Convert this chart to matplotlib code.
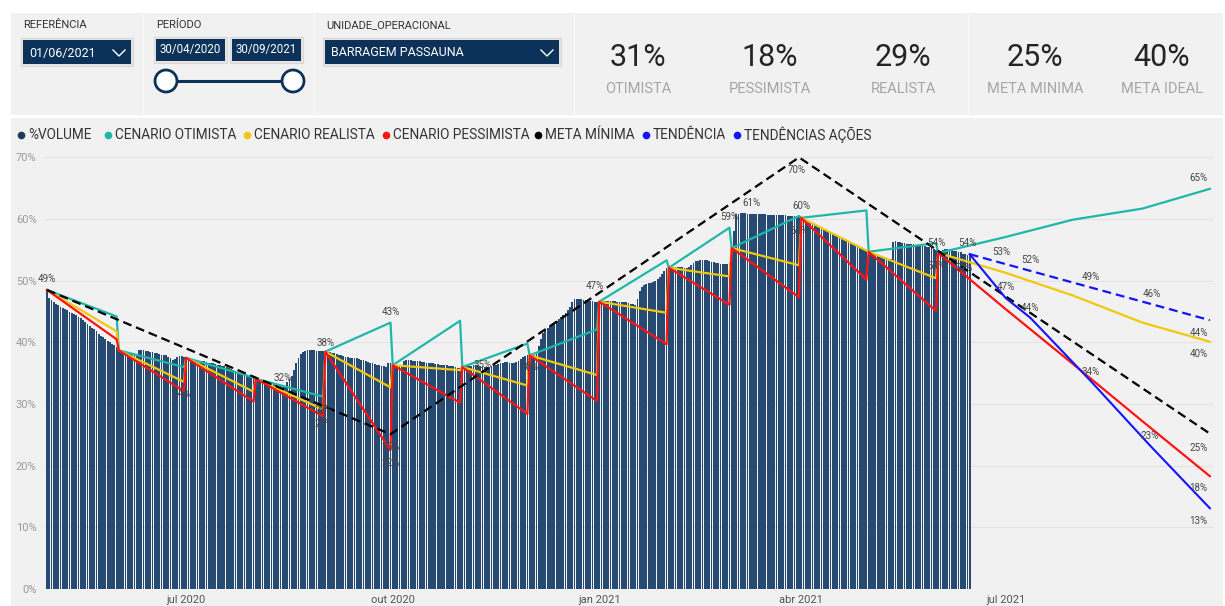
import matplotlib

matplotlib.use("Agg")

import matplotlib.pyplot as plt
import pandas as pd
from matplotlib.patches import Circle, Rectangle


plt.rcParams["font.family"] = ["Roboto", "DejaVu Sans"]

W, H = 1225, 606
PANEL_COLOR = "#f1f1f1"
NAVY = "#0c325a"
BAR_COLOR = "#264a72"
TEAL = "#1db8a7"
YELLOW = "#f2c80f"
RED = "#ff1414"
BLACK = "#000000"
BLUE = "#1414ff"
LABEL_COLOR = "#454545"

# daily %VOLUME, starting 30/04/2020
VOLUME_START = "2020-04-30"
vol_2020_04 = [48.5]
vol_2020_05 = [47.2, 46.8, 46.5, 46.2, 46.0, 45.8, 45.6, 45.4, 45.2, 45.0, 44.8, 44.6, 44.4, 44.1, 43.9, 43.6,
               43.3, 43.0, 42.7, 42.4, 42.1, 41.8, 41.4, 41.1, 40.8, 40.5, 40.3, 40.0, 39.8, 39.5, 39.2]
vol_2020_06 = [38.8, 38.7, 38.6, 38.5, 38.4, 38.3, 38.1, 38.0, 37.9, 38.7, 38.8, 38.7, 38.6, 38.6, 38.5,
               38.4, 38.3, 38.2, 38.1, 38.0, 38.0, 37.9, 37.7, 37.4, 37.2, 37.3, 37.6, 37.8, 37.8, 37.7]
vol_2020_07 = [37.5, 37.4, 37.3, 37.2, 37.1, 37.1, 37.0, 36.9, 36.9, 36.8, 36.7, 36.6, 36.6, 36.5, 36.4, 36.3,
               36.2, 36.1, 36.0, 35.9, 35.7, 35.5, 35.4, 35.2, 35.0, 34.9, 34.7, 34.6, 34.4, 34.3, 34.2]
vol_2020_08 = [34.1, 34.0, 33.9, 33.8, 33.7, 33.6, 33.4, 33.3, 33.2, 33.1, 33.0, 32.9, 32.8, 33.0, 33.5, 34.0,
               34.6, 35.6, 36.6, 37.5, 38.1, 38.5, 38.6, 38.7, 38.7, 38.7, 38.7, 38.6, 38.6, 38.6, 38.6]
vol_2020_09 = [38.6, 38.5, 38.4, 38.3, 38.2, 38.1, 38.0, 37.9, 37.8, 37.7, 37.6, 37.5, 37.5, 37.5, 37.4,
               37.3, 37.2, 37.1, 36.9, 36.8, 36.7, 36.6, 36.5, 36.4, 36.3, 36.2, 36.1, 36.0, 36.6, 36.6]
vol_2020_10 = [36.4, 36.3, 36.2, 36.2, 36.4, 36.9, 37.1, 37.1, 37.1, 37.0, 37.0, 36.9, 36.9, 36.8, 36.8, 36.7,
               36.7, 36.6, 36.6, 36.5, 36.5, 36.4, 36.4, 36.3, 36.3, 36.2, 36.1, 36.1, 36.0, 35.9, 35.9]
vol_2020_11 = [35.9, 36.0, 36.1, 36.1, 36.2, 36.3, 36.3, 36.3, 36.2, 36.1, 36.0, 36.0, 36.0, 36.1, 36.3,
               36.4, 36.5, 36.6, 36.7, 36.8, 36.8, 36.7, 36.7, 36.7, 36.8, 37.0, 37.3, 37.6, 37.8, 37.9]
vol_2020_12 = [37.9, 37.9, 37.9, 38.5, 39.4, 40.6, 41.6, 42.1, 42.4, 42.7, 42.9, 43.2, 43.5, 43.8, 44.1, 44.5,
               44.8, 45.2, 45.8, 46.5, 47.0, 47.0, 47.0, 47.0, 46.9, 46.8, 46.7, 46.7, 46.7, 46.6, 46.6]
vol_2021_01 = [46.6, 46.6, 46.7, 46.7, 46.7, 46.7, 46.7, 46.7, 46.6, 46.6, 46.6, 46.6, 46.5, 46.4, 46.3, 46.2,
               46.1, 47.0, 48.3, 49.0, 49.3, 49.5, 49.6, 49.7, 49.8, 49.9, 50.2, 50.6, 51.1, 51.6, 52.0]
vol_2021_02 = [52.1, 52.2, 52.3, 52.3, 52.3, 52.2, 52.2, 52.1, 52.1, 52.3, 52.6, 52.9, 53.2, 53.2,
               53.3, 53.3, 53.3, 53.3, 53.2, 53.1, 53.0, 52.8, 52.8, 52.7, 52.7, 52.7, 52.7, 52.8]
vol_2021_03 = [55.3, 58.0, 60.8, 60.9, 61.0, 61.0, 61.0, 60.9, 60.9, 60.9, 60.9, 60.9, 60.8, 60.8, 60.8, 60.8,
               60.7, 60.7, 60.7, 60.7, 60.6, 60.6, 60.6, 60.6, 60.6, 60.5, 60.5, 60.5, 60.5, 60.5, 60.4]
vol_2021_04 = [60.2, 60.0, 59.9, 59.7, 59.5, 59.3, 59.1, 59.0, 58.8, 58.6, 58.4, 58.2, 58.0, 57.8, 57.6,
               57.4, 57.3, 57.1, 56.9, 56.7, 56.5, 56.4, 56.2, 56.0, 55.8, 55.6, 55.5, 55.3, 55.1, 54.9]
vol_2021_05 = [54.8, 54.6, 54.4, 54.2, 54.0, 53.9, 53.8, 53.7, 53.7, 53.6, 53.6, 56.2, 56.4, 56.3, 56.2, 56.1,
               56.1, 56.0, 56.0, 55.9, 55.9, 55.8, 55.8, 55.7, 55.7, 55.6, 55.5, 55.4, 55.3, 55.1, 55.0]
vol_2021_06 = [54.6, 54.9, 55.0, 55.2, 55.2, 55.1, 55.0, 54.9, 54.8, 54.7, 54.6, 54.4, 54.3, 54.2, 54.1]

# monthly scenarios: each month starts at the real volume and is projected to month end
MONTH_STARTS = ["2020-04-30", "2020-06-01", "2020-07-01", "2020-08-01", "2020-09-01", "2020-10-01",
                "2020-11-01", "2020-12-01", "2021-01-01", "2021-02-01", "2021-03-01", "2021-04-01",
                "2021-05-01", "2021-06-01"]
START_VALUES = [48.5, 38.7, 37.5, 34.1, 38.5, 36.3, 36.0, 37.9, 46.6, 52.1, 55.3, 60.2, 54.7, 54.5]
MONTH_ENDS = ["2020-05-31", "2020-06-30", "2020-07-31", "2020-08-31", "2020-09-30", "2020-10-31",
              "2020-11-30", "2020-12-31", "2021-01-31", "2021-02-28", "2021-03-31", "2021-04-30",
              "2021-05-31"]
OTIMISTA_ENDS = [44.2, 36.0, 34.3, 31.2, 43.2, 43.5, 39.8, 42.1, 53.3, 58.6, 60.5, 61.4, 56.1]
REALISTA_ENDS = [41.8, 33.6, 32.0, 29.1, 32.7, 35.5, 33.0, 34.7, 44.8, 50.7, 52.5, 54.9, 50.4]
PESSIMISTA_ENDS = [40.5, 32.1, 30.4, 28.0, 22.5, 30.2, 28.4, 30.5, 39.7, 46.1, 47.3, 50.2, 45.1]

FORECAST_DATES = ["2021-06-30", "2021-07-31", "2021-08-31", "2021-09-30"]
OTIMISTA_FORECAST = [57.0, 59.9, 61.7, 64.9]
REALISTA_FORECAST = [51.4, 47.6, 43.2, 40.1]
PESSIMISTA_FORECAST = [45.7, 36.5, 27.2, 18.3]

META_DATES = ["2020-04-30", "2020-09-30", "2021-03-31", "2021-09-30"]
META_VALUES = [48.5, 25.1, 70.0, 25.2]

TENDENCIA_DATES = ["2021-06-15", "2021-06-29", "2021-07-12", "2021-08-08", "2021-09-04", "2021-09-30"]
TENDENCIA_VALUES = [54.3, 52.9, 51.6, 48.9, 46.2, 43.6]
ACOES_DATES = ["2021-06-15", "2021-07-01", "2021-07-12", "2021-08-08", "2021-09-03", "2021-09-30"]
ACOES_VALUES = [54.3, 47.2, 44.0, 33.7, 23.4, 13.1]

LABEL_DATES = ["2020-04-30", "2020-06-29", "2020-08-13", "2020-08-31", "2020-08-31", "2020-09-01",
               "2020-09-30", "2020-09-30", "2020-09-30", "2020-11-10", "2020-12-01", "2020-12-30",
               "2021-02-28", "2021-03-10", "2021-04-01", "2021-03-30", "2021-03-31", "2021-05-31",
               "2021-06-14", "2021-05-31", "2021-06-12", "2021-06-29", "2021-07-12", "2021-08-08",
               "2021-09-04", "2021-09-25", "2021-07-01", "2021-07-12", "2021-08-08", "2021-09-03",
               "2021-09-25", "2021-09-25", "2021-09-25", "2021-09-25", "2021-09-25"]
LABEL_VALUES = [50.2, 31.6, 34.2, 29.0, 26.7, 39.9, 44.9, 23.0, 20.4, 36.3, 36.0, 49.1,
                60.3, 62.6, 62.1, 67.9, 58.0, 56.1, 56.1, 52.4, 52.0, 54.6, 53.3, 50.6,
                47.8, 41.5, 48.9, 45.5, 35.2, 24.8, 11.0, 66.6, 38.1, 22.9, 16.4]
LABEL_TEXTS = ["49%", "34%", "32%", "29%", "27%", "38%", "43%", "25%", "22%", "35%", "38%", "47%",
               "59%", "61%", "60%", "70%", "60%", "54%", "54%", "54%", "54%", "53%", "52%", "49%",
               "46%", "44%", "47%", "44%", "34%", "23%", "13%", "65%", "40%", "25%", "18%"]

X_TICKS = ["2020-07-01", "2020-10-01", "2021-01-01", "2021-04-01", "2021-07-01"]
X_TICK_LABELS = ["jul 2020", "out 2020", "jan 2021", "abr 2021", "jul 2021"]
Y_TICKS = [0, 10, 20, 30, 40, 50, 60, 70]

CARD_VALUES = ["31%", "18%", "29%", "25%", "40%"]
CARD_NAMES = ["OTIMISTA", "PESSIMISTA", "REALISTA", "META MINIMA", "META IDEAL"]
LEGEND_NAMES = ["%VOLUME", "CENARIO OTIMISTA", "CENARIO REALISTA", "CENARIO PESSIMISTA",
                "META MÍNIMA", "TENDÊNCIA", "TENDÊNCIAS AÇÕES"]
LEGEND_COLORS = ["#1b3a5c", TEAL, YELLOW, RED, BLACK, BLUE, BLUE]


def scenario_path(ends, forecast):
    dates, values = [], []
    for start, start_value, end, end_value in zip(MONTH_STARTS, START_VALUES, MONTH_ENDS, ends):
        dates += [start, end]
        values += [start_value, end_value]
    dates += [MONTH_STARTS[-1]] + FORECAST_DATES
    values += [START_VALUES[-1]] + forecast
    return pd.to_datetime(dates), values


def dropdown(bg, x0, x1, y0, y1, text, chevron=True, center=False):
    bg.add_patch(Rectangle((x0 - 2, y0 - 2), x1 - x0 + 4, y1 - y0 + 4, facecolor="#e4e4e4",
                           edgecolor="#d8d8d8", lw=0.8))
    bg.add_patch(Rectangle((x0, y0), x1 - x0, y1 - y0, facecolor=NAVY, edgecolor="none"))
    if center:
        bg.text((x0 + x1) / 2, (y0 + y1) / 2, text, color="white", fontsize=8.3, ha="center", va="center")
    else:
        bg.text(x0 + 6, (y0 + y1) / 2 + 1, text, color="white", fontsize=9, ha="left", va="center")
    if chevron:
        cx, cy = x1 - 12, (y0 + y1) / 2 + 1
        bg.plot([cx - 6, cx, cx + 6], [cy - 3, cy + 3, cy - 3], color="white", lw=1.0)


fig = plt.figure(figsize=(W / 100, H / 100), dpi=100)
fig.patch.set_facecolor("white")

bg = fig.add_axes([0, 0, 1, 1])
bg.set_xlim(0, W)
bg.set_ylim(H, 0)
bg.axis("off")

# panels
bg.add_patch(Rectangle((11, 13), W - 13, 102, facecolor=PANEL_COLOR, edgecolor="none"))
bg.add_patch(Rectangle((11, 118), W - 13, H - 118, facecolor=PANEL_COLOR, edgecolor="none"))
for sep in [142.5, 313.5, 573.5, 968]:
    bg.plot([sep, sep], [13, 115], color="#f9f9f9", lw=1.0)

# slicers
bg.text(23, 25, "REFERÊNCIA", fontsize=8, color="#333333", va="center")
dropdown(bg, 23, 131, 40, 64, "01/06/2021")
bg.text(156, 25, "PERÍODO", fontsize=8, color="#333333", va="center")
dropdown(bg, 156, 225, 39, 61, "30/04/2020", chevron=False, center=True)
dropdown(bg, 232, 301, 39, 61, "30/09/2021", chevron=False, center=True)
bg.plot([166, 293], [81, 81], color=NAVY, lw=2.2, zorder=2)
for cx in [166, 293]:
    bg.add_patch(Circle((cx, 81), 11, facecolor="white", edgecolor=NAVY, lw=2.0, zorder=3))
bg.text(326, 25, "UNIDADE_OPERACIONAL", fontsize=8, color="#333333", va="center")
dropdown(bg, 325, 559, 40, 64, "BARRAGEM PASSAUNA")

# cards
for cx, value, name in zip([638, 770, 903, 1035, 1162], CARD_VALUES, CARD_NAMES):
    bg.text(cx, 57, value, fontsize=22, color="#252423", ha="center", va="center")
    bg.text(cx, 89, name, fontsize=10.5, color="#a6a6a6", ha="center", va="center")

# legend
for dot_x, name, color in zip([21, 108, 247, 386, 538, 646, 737], LEGEND_NAMES, LEGEND_COLORS):
    bg.plot([dot_x], [135], marker="o", markersize=5.5, color=color, markeredgewidth=0)
    bg.text(dot_x + 7, 135, name, fontsize=9.8, color="#333333", ha="left", va="center")

# chart
ax_left, ax_right, ax_top, ax_bottom = 45, 1213, 150, 589
ax = fig.add_axes([ax_left / W, 1 - ax_bottom / H, (ax_right - ax_left) / W, (ax_bottom - ax_top) / H])
ax.set_facecolor("none")

volume = (vol_2020_04 + vol_2020_05 + vol_2020_06 + vol_2020_07 + vol_2020_08 + vol_2020_09
          + vol_2020_10 + vol_2020_11 + vol_2020_12 + vol_2021_01 + vol_2021_02 + vol_2021_03
          + vol_2021_04 + vol_2021_05 + vol_2021_06)
volume_dates = pd.date_range(VOLUME_START, periods=len(volume), freq="D")
ax.bar(volume_dates, volume, width=0.8, color=BAR_COLOR, linewidth=0, zorder=2)

for ends, forecast, color in [(OTIMISTA_ENDS, OTIMISTA_FORECAST, TEAL),
                              (REALISTA_ENDS, REALISTA_FORECAST, YELLOW),
                              (PESSIMISTA_ENDS, PESSIMISTA_FORECAST, RED)]:
    dates, values = scenario_path(ends, forecast)
    ax.plot(dates, values, color=color, lw=1.6, zorder=3)

ax.plot(pd.to_datetime(META_DATES), META_VALUES, color=BLACK, lw=1.6, dashes=(4, 2.2), zorder=4)
ax.plot(pd.to_datetime(TENDENCIA_DATES), TENDENCIA_VALUES, color=BLUE, lw=1.6, dashes=(4, 2.2), zorder=4)
ax.plot(pd.to_datetime(ACOES_DATES), ACOES_VALUES, color=BLUE, lw=1.5, zorder=4)

for date, value, text in zip(pd.to_datetime(LABEL_DATES), LABEL_VALUES, LABEL_TEXTS):
    ax.text(date, value, text, fontsize=7, color=LABEL_COLOR, ha="center", va="center", zorder=5)

x0 = pd.Timestamp(VOLUME_START)
ax.set_xlim(x0 - pd.Timedelta(days=0.9), x0 + pd.Timedelta(days=519.4))
ax.set_ylim(0, 71.2)
ax.set_yticks(Y_TICKS)
ax.set_yticklabels([f"{v}%" for v in Y_TICKS])
ax.set_xticks(pd.to_datetime(X_TICKS))
ax.set_xticklabels(X_TICK_LABELS)
ax.tick_params(axis="y", length=0, pad=6, labelsize=8, labelcolor="#9a9a9a")
ax.tick_params(axis="x", length=0, pad=4, labelsize=8, labelcolor="#555555")
ax.grid(axis="y", color="#e3e3e3", lw=0.8, zorder=0)
ax.set_axisbelow(True)
for spine in ax.spines.values():
    spine.set_visible(False)

fig.savefig("out.png", dpi=100, facecolor=fig.get_facecolor())
plt.close(fig)
